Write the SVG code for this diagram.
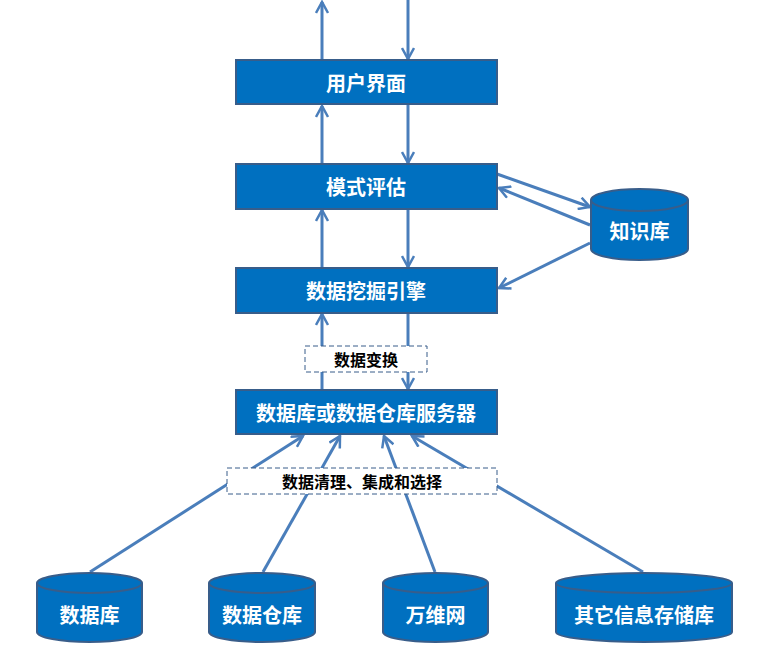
<svg xmlns="http://www.w3.org/2000/svg" width="768" height="652" viewBox="0 0 768 652">
<style>
.box{fill:#0070C0;stroke:#385D8A;stroke-width:2}
.bt{fill:#fff;font-family:"Noto Sans CJK SC","Liberation Sans",sans-serif;font-weight:bold;font-size:20px;text-anchor:middle;dominant-baseline:central}
.lbl{fill:#fff;stroke:#385D8A;stroke-width:1;stroke-dasharray:5,3}
.lt{fill:#000;font-family:"Noto Sans CJK SC","Liberation Sans",sans-serif;font-weight:bold;font-size:16px;text-anchor:middle;dominant-baseline:central}
.ln{stroke:#4A7EBB;stroke-width:3;fill:none;marker-end:url(#ah)}
</style>
<defs>
<marker id="ah" viewBox="0 0 14 14" refX="12" refY="7" markerWidth="14" markerHeight="14" markerUnits="userSpaceOnUse" orient="auto">
<path d="M1,1 L12,7 L1,13" fill="none" stroke="#4A7EBB" stroke-width="2.5"/>
</marker>
</defs>
<rect width="768" height="652" fill="#fff"/>
<g id="connectors">
<line class="ln" x1="322" y1="60" x2="322" y2="2"/>
<line class="ln" x1="408" y1="0" x2="408" y2="59"/>
<line class="ln" x1="322" y1="164" x2="322" y2="106"/>
<line class="ln" x1="408" y1="105" x2="408" y2="163"/>
<line class="ln" x1="322" y1="268" x2="322" y2="210"/>
<line class="ln" x1="408" y1="209" x2="408" y2="267"/>
<line class="ln" x1="322" y1="390" x2="322" y2="314"/>
<line class="ln" x1="408" y1="313" x2="408" y2="389"/>
<line class="ln" x1="497" y1="174" x2="590" y2="207"/>
<line class="ln" x1="590" y1="225" x2="499" y2="188"/>
<line class="ln" x1="590" y1="243" x2="499" y2="288"/>
<line class="ln" x1="90" y1="572" x2="303" y2="436"/>
<line class="ln" x1="263" y1="572" x2="340" y2="436"/>
<line class="ln" x1="435" y1="572" x2="384" y2="436"/>
<line class="ln" x1="643" y1="572" x2="412" y2="436"/>
</g>
<g id="label-transform">
<rect class="lbl" x="305" y="346" width="122" height="26"/>
<text class="lt" x="366" y="359">数据变换</text>
</g>
<g id="label-clean">
<rect class="lbl" x="227" y="468" width="270" height="26"/>
<text class="lt" x="362" y="481">数据清理、集成和选择</text>
</g>
<g id="ui">
<rect class="box" x="236" y="60" width="261" height="44"/>
<text class="bt" x="366" y="82">用户界面</text>
</g>
<g id="eval">
<rect class="box" x="236" y="164" width="261" height="45"/>
<text class="bt" x="366" y="186">模式评估</text>
</g>
<g id="engine">
<rect class="box" x="236" y="268" width="261" height="45"/>
<text class="bt" x="366" y="290">数据挖掘引擎</text>
</g>
<g id="server">
<rect class="box" x="236" y="390" width="261" height="44"/>
<text class="bt" x="366" y="412">数据库或数据仓库服务器</text>
</g>
<g id="kb">
<path class="box" d="M591,200 L591,249 A48.5,11 0 0 0 688,249 L688,200 A48.5,11 0 0 0 591,200 Z"/>
<path d="M591,200 A48.5,11 0 0 0 688,200" fill="none" stroke="#385D8A" stroke-width="2"/>
<text class="bt" x="639.5" y="230">知识库</text>
</g>
<g id="db">
<path class="box" d="M37,583 L37,632 A52.5,10 0 0 0 142,632 L142,583 A52.5,10 0 0 0 37,583 Z"/>
<path d="M37,583 A52.5,10 0 0 0 142,583" fill="none" stroke="#385D8A" stroke-width="2"/>
<text class="bt" x="89.5" y="614">数据库</text>
</g>
<g id="dw">
<path class="box" d="M209,583 L209,632 A53,10 0 0 0 315,632 L315,583 A53,10 0 0 0 209,583 Z"/>
<path d="M209,583 A53,10 0 0 0 315,583" fill="none" stroke="#385D8A" stroke-width="2"/>
<text class="bt" x="262" y="614">数据仓库</text>
</g>
<g id="www">
<path class="box" d="M383,583 L383,632 A52.5,10 0 0 0 488,632 L488,583 A52.5,10 0 0 0 383,583 Z"/>
<path d="M383,583 A52.5,10 0 0 0 488,583" fill="none" stroke="#385D8A" stroke-width="2"/>
<text class="bt" x="435.5" y="614">万维网</text>
</g>
<g id="other">
<path class="box" d="M556,583 L556,632 A88,10 0 0 0 732,632 L732,583 A88,10 0 0 0 556,583 Z"/>
<path d="M556,583 A88,10 0 0 0 732,583" fill="none" stroke="#385D8A" stroke-width="2"/>
<text class="bt" x="644" y="614">其它信息存储库</text>
</g>
</svg>
